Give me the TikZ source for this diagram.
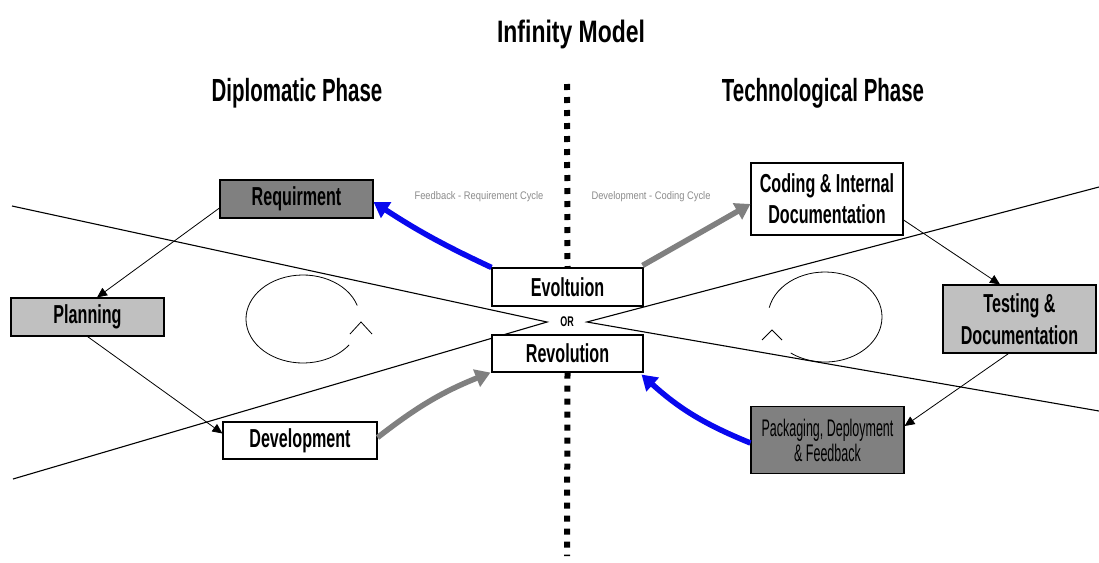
\documentclass[tikz,border=0pt]{standalone}
\usepackage{fontspec}
\setmainfont{Liberation Sans}
\newfontfamily\titlefont{Liberation Sans}[FakeStretch=0.74]
\newfontfamily\headfont{Liberation Sans}[FakeStretch=0.64]
\newfontfamily\boxfont{Liberation Sans}[FakeStretch=0.62]
\newfontfamily\narrowfont{Liberation Sans}[FakeStretch=0.52]
\newfontfamily\smallfont{Liberation Sans}[FakeStretch=0.85]
\usetikzlibrary{arrows.meta}

\definecolor{boxdark}{RGB}{128,128,128}
\definecolor{boxlight}{RGB}{192,192,192}
\definecolor{flowblue}{RGB}{8,8,238}
\definecolor{flowgray}{RGB}{128,128,128}
\definecolor{notegray}{RGB}{140,140,140}

\begin{document}
\begin{tikzpicture}[x=1pt,y=-1pt,
  stage/.style={draw=black, line width=1.1pt, minimum width=153pt, minimum height=38pt,
    inner sep=0pt, align=center, font=\boxfont\bfseries\fontsize{26}{31}\selectfont},
  darkstage/.style={stage, fill=boxdark},
  lightstage/.style={stage, fill=boxlight},
  plainstage/.style={stage, fill=white},
  heading/.style={font=\headfont\bfseries\fontsize{32}{36}\selectfont, anchor=base},
  cyclenote/.style={font=\smallfont\fontsize{11}{13}\selectfont, text=notegray},
  link/.style={line width=0.8pt, -{Triangle[length=10pt,width=9pt]}},
  crossline/.style={line width=1.1pt},
  loop/.style={line width=0.8pt},
  blueflow/.style={line width=5.5pt, draw=flowblue, -{Triangle[length=15pt,width=18pt]}},
  grayflow/.style={line width=5.5pt, draw=flowgray, -{Triangle[length=15pt,width=18pt]}},
  divider/.style={line width=6pt, dash pattern=on 6pt off 7pt}
]
\useasboundingbox (0,0) rectangle (1099,562);
\fill[white] (0,0) rectangle (1099,562);

% titles
\node[font=\titlefont\bfseries\fontsize{31}{36}\selectfont, anchor=base] (title) at (571,42) {Infinity Model};
\node[heading] (diplo) at (297,101) {Diplomatic Phase};
\node[heading] (techno) at (823,101) {Technological Phase};

% the two crossing lines meeting at "OR"
\coordinate (aL) at (12,206);
\coordinate (aR) at (1099,411);
\coordinate (bL) at (13,479);
\coordinate (bR) at (1099,187);
\node[font=\headfont\bfseries\fontsize{14}{16}\selectfont, inner xsep=13pt, inner ysep=2pt] (or) at (567,322) {OR};
\draw[crossline] (aL) -- (or.west) -- (bL);
\draw[crossline] (bR) -- (or.east) -- (aR);

% cycle loops
\coordinate (loopL) at (303,319);
\coordinate (loopR) at (825,317);
\draw[loop] ([shift={(-18:57 and 44)}]loopL) arc[start angle=-18, end angle=-324, x radius=57, y radius=44];
\draw[loop] (350,334) -- (361,322) -- (372,334);
\draw[loop] ([shift={(192:57 and 45)}]loopR) arc[start angle=192, end angle=487, x radius=57, y radius=45];
\draw[loop] (762,340) -- (772,330) -- (782,340);

% stages
\node[darkstage]  (req)  at (296.5,199) {Requirment};
\node[lightstage] (plan) at (87.5,317) {Planning};
\node[plainstage, minimum width=154pt, minimum height=37pt] (dev) at (300,440.5) {Development};
\node[plainstage, minimum width=151pt] (evo) at (567.5,287) {Evoltuion};
\node[plainstage, minimum width=151pt, minimum height=37pt] (rev) at (567.5,353.5) {Revolution};
\node[plainstage, minimum width=152pt, minimum height=72pt] (cod) at (827,199) {Coding \& Internal\\Documentation};
\node[lightstage, minimum height=68pt, font=\boxfont\bfseries\fontsize{26}{32}\selectfont] (test) at (1019.5,319) {Testing \&\\Documentation};
\node[darkstage, minimum height=67pt, font=\narrowfont\fontsize{24}{25}\selectfont] (pack) at (827.5,440) {Packaging, Deployment\\\& Feedback};

% vertical divider
\draw[divider] (567,84) -- (evo.north);
\draw[divider] (rev.south) -- (567,556);

% cycle notes
\node[cyclenote] (fbnote) at (479,197) {Feedback - Requirement Cycle};
\node[cyclenote] (dcnote) at (651,197) {Development - Coding Cycle};

% thin connectors between stages
\draw[link] ([yshift=-9pt]req.west) -- ([xshift=9.5pt]plan.north);
\draw[link] (plan.south) -- ([yshift=7pt]dev.west);
\draw[link] ([yshift=-21pt]cod.east) -- ([xshift=-19.5pt]test.north);
\draw[link] ([xshift=-11pt]test.south) -- ([yshift=14pt]pack.east);

% thick flow arrows
\draw[blueflow] (evo.north west) to[bend left=4] ([yshift=-3pt]req.east);
\draw[grayflow] ([xshift=-1pt,yshift=2pt]evo.north east) -- ([yshift=-5pt]cod.west);
\draw[grayflow] ([yshift=3pt]dev.east) to[bend left=8] ([xshift=-1pt]rev.south west);
\draw[blueflow] ([yshift=-3pt]pack.west) to[bend left=10] ([xshift=-2pt,yshift=-2pt]rev.south east);
\end{tikzpicture}
\end{document}
